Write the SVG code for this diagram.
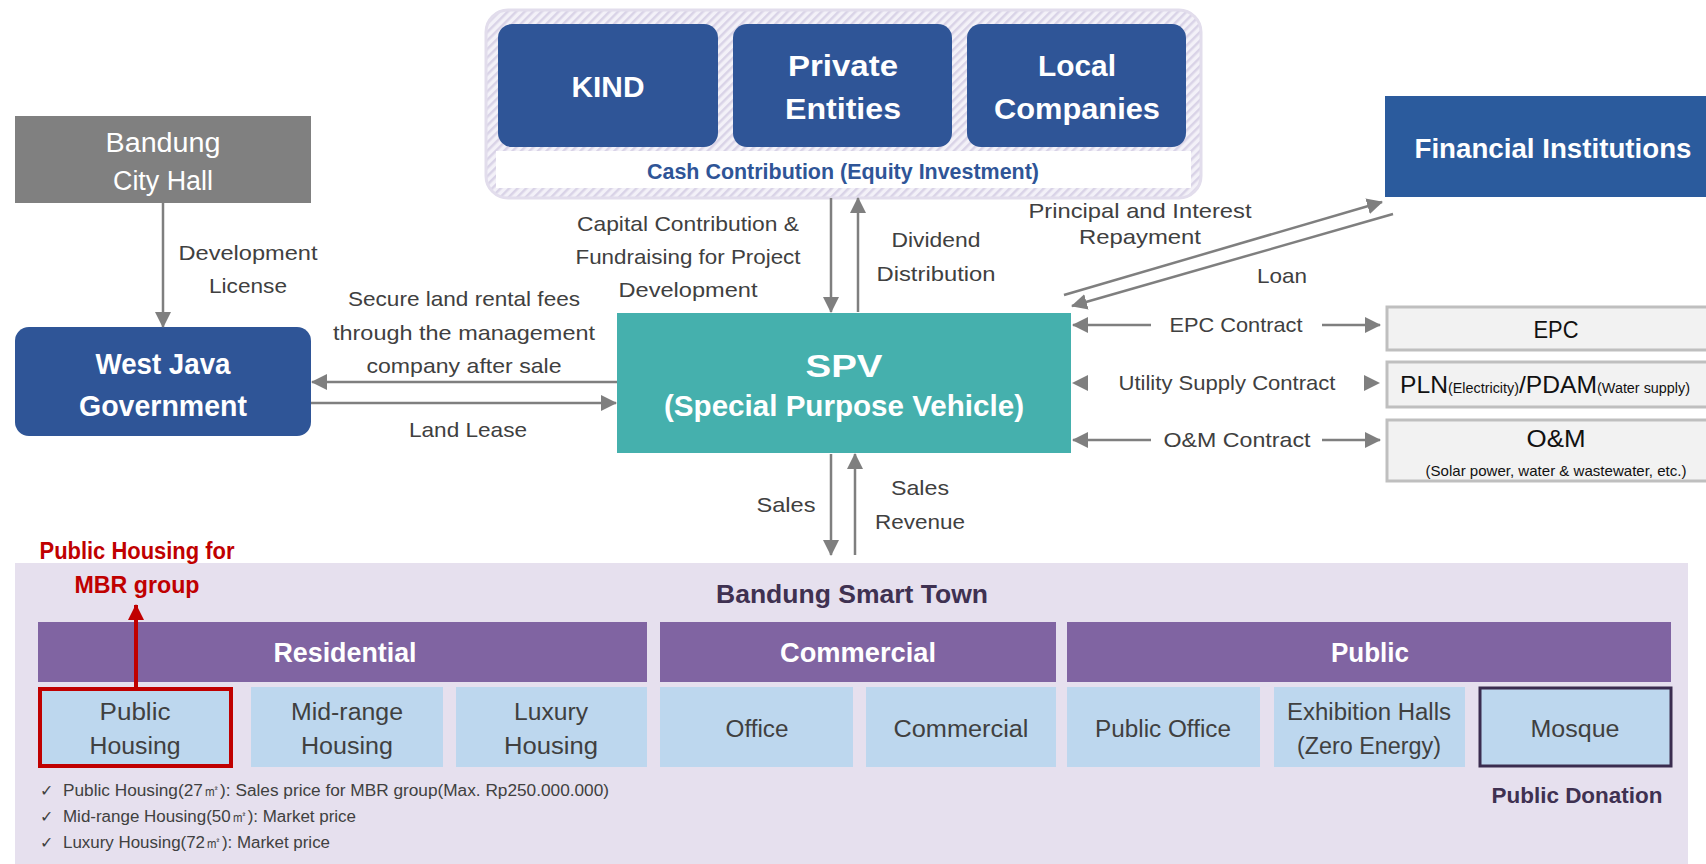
<svg xmlns="http://www.w3.org/2000/svg" width="1706" height="864" viewBox="0 0 1706 864">
<defs>
<style>
text{font-family:"Liberation Sans Narrow","Liberation Sans",Arial,sans-serif;}
.lbl{font-size:21px;fill:#404040;text-anchor:middle;}
.wb{fill:#ffffff;font-weight:bold;text-anchor:middle;}
.wr{fill:#ffffff;text-anchor:middle;}
.sub{font-size:23px;fill:#404040;text-anchor:middle;}
.blk{fill:#111111;text-anchor:middle;}
.blue{fill:#2f5597;}
.cat{fill:#8064a2;}
.cell{fill:#bdd7ee;}
.gbox{fill:#f2f2f2;stroke:#bfbfbf;stroke-width:3;}
.arr{stroke:#7f7f7f;stroke-width:2.5;fill:none;}
.bul{font-size:16px;fill:#404040;}
</style>
<pattern id="hatch" patternUnits="userSpaceOnUse" width="6" height="6" patternTransform="rotate(45)">
<rect width="6" height="6" fill="#f3f1f8"/>
<rect width="2.5" height="6" fill="#d9d3e7"/>
</pattern>
<marker id="ah" viewBox="0 0 16 16" refX="15" refY="8" markerWidth="16" markerHeight="16" markerUnits="userSpaceOnUse" orient="auto">
<path d="M0,0 L16,8 L0,16 Z" fill="#7f7f7f"/>
</marker>
<marker id="ahr" viewBox="0 0 16 16" refX="15" refY="8" markerWidth="16" markerHeight="16" markerUnits="userSpaceOnUse" orient="auto">
<path d="M0,0 L16,8 L0,16 Z" fill="#c00000"/>
</marker>
</defs>
<rect width="1706" height="864" fill="#ffffff"/>

<!-- Investors container -->
<g id="investors">
<rect x="486" y="10" width="715" height="188" rx="22" fill="url(#hatch)" stroke="#e2ddec" stroke-width="3"/>
<rect x="496" y="151" width="695" height="37" fill="#ffffff"/>
<text x="843" y="179" font-size="22" font-weight="bold" fill="#2f5597" text-anchor="middle" textLength="392" lengthAdjust="spacingAndGlyphs">Cash Contribution (Equity Investment)</text>
</g>
<g id="kind">
<rect x="498" y="24" width="220" height="123" rx="14" class="blue"/>
<text x="608" y="97" font-size="30" class="wb" textLength="73" lengthAdjust="spacingAndGlyphs">KIND</text>
</g>
<g id="private">
<rect x="733" y="24" width="219" height="123" rx="14" class="blue"/>
<text x="843" y="76" font-size="30" class="wb" textLength="110" lengthAdjust="spacingAndGlyphs">Private</text>
<text x="843" y="119" font-size="30" class="wb" textLength="116" lengthAdjust="spacingAndGlyphs">Entities</text>
</g>
<g id="local">
<rect x="967" y="24" width="219" height="123" rx="14" class="blue"/>
<text x="1077" y="76" font-size="30" class="wb" textLength="78" lengthAdjust="spacingAndGlyphs">Local</text>
<text x="1077" y="119" font-size="30" class="wb" textLength="166" lengthAdjust="spacingAndGlyphs">Companies</text>
</g>

<g id="cityhall">
<rect x="15" y="116" width="296" height="87" fill="#808080"/>
<text x="163" y="152" font-size="27" class="wr" textLength="115" lengthAdjust="spacingAndGlyphs">Bandung</text>
<text x="163" y="190" font-size="27" class="wr" textLength="100" lengthAdjust="spacingAndGlyphs">City Hall</text>
</g>
<g id="westjava">
<rect x="15" y="327" width="296" height="109" rx="14" class="blue"/>
<text x="163" y="374" font-size="30" class="wb" textLength="135" lengthAdjust="spacingAndGlyphs">West Java</text>
<text x="163" y="416" font-size="30" class="wb" textLength="168" lengthAdjust="spacingAndGlyphs">Government</text>
</g>
<g id="spv">
<rect x="617" y="313" width="454" height="140" fill="#45b0ad"/>
<text x="844" y="377" font-size="32" class="wb" textLength="77" lengthAdjust="spacingAndGlyphs">SPV</text>
<text x="844" y="416" font-size="29" class="wb" textLength="360" lengthAdjust="spacingAndGlyphs">(Special Purpose Vehicle)</text>
</g>
<g id="financial">
<rect x="1385" y="96" width="321" height="101" fill="#2b5b9d"/>
<text x="1553" y="158" font-size="27" class="wb" textLength="277" lengthAdjust="spacingAndGlyphs">Financial Institutions</text>
</g>
<g id="epc">
<rect x="1387" y="307" width="330" height="43" class="gbox"/>
<text x="1556" y="338" font-size="24" class="blk" textLength="45" lengthAdjust="spacingAndGlyphs">EPC</text>
</g>
<g id="pln">
<rect x="1387" y="362" width="330" height="45" class="gbox"/>
<text x="1545" y="393" class="blk" textLength="290" lengthAdjust="spacingAndGlyphs"><tspan font-size="24">PLN</tspan><tspan font-size="14">(Electricity)</tspan><tspan font-size="24">/PDAM</tspan><tspan font-size="14">(Water supply)</tspan></text>
</g>
<g id="om">
<rect x="1387" y="420" width="330" height="61" class="gbox"/>
<text x="1556" y="447" font-size="24" class="blk" textLength="59" lengthAdjust="spacingAndGlyphs">O&amp;M</text>
<text x="1556" y="476" font-size="15" class="blk" textLength="261" lengthAdjust="spacingAndGlyphs">(Solar power, water &amp; wastewater, etc.)</text>
</g>

<!-- Bandung Smart Town -->
<g id="smarttown">
<rect x="15" y="563" width="1673" height="301" fill="#e6e0ee"/>
<text x="852" y="603" font-size="25" font-weight="bold" fill="#3f3151" text-anchor="middle" textLength="272" lengthAdjust="spacingAndGlyphs">Bandung Smart Town</text>
</g>
<g id="residential">
<rect x="38" y="622" width="609" height="60" class="cat"/>
<text x="345" y="662" font-size="27" class="wb" textLength="143" lengthAdjust="spacingAndGlyphs">Residential</text>
</g>
<g id="commercial-cat">
<rect x="660" y="622" width="396" height="60" class="cat"/>
<text x="858" y="662" font-size="27" class="wb" textLength="156" lengthAdjust="spacingAndGlyphs">Commercial</text>
</g>
<g id="public-cat">
<rect x="1067" y="622" width="604" height="60" class="cat"/>
<text x="1370" y="662" font-size="27" class="wb" textLength="78" lengthAdjust="spacingAndGlyphs">Public</text>
</g>
<g id="publichousing">
<rect x="40" y="689" width="191" height="77" class="cell" stroke="#c00000" stroke-width="4"/>
<text x="135" y="720" class="sub" textLength="71" lengthAdjust="spacingAndGlyphs">Public</text>
<text x="135" y="754" class="sub" textLength="91" lengthAdjust="spacingAndGlyphs">Housing</text>
</g>
<g id="midrange">
<rect x="251" y="687" width="192" height="80" class="cell"/>
<text x="347" y="720" class="sub" textLength="112" lengthAdjust="spacingAndGlyphs">Mid-range</text>
<text x="347" y="754" class="sub" textLength="92" lengthAdjust="spacingAndGlyphs">Housing</text>
</g>
<g id="luxury">
<rect x="456" y="687" width="191" height="80" class="cell"/>
<text x="551" y="720" class="sub" textLength="74" lengthAdjust="spacingAndGlyphs">Luxury</text>
<text x="551" y="754" class="sub" textLength="94" lengthAdjust="spacingAndGlyphs">Housing</text>
</g>
<g id="office">
<rect x="660" y="687" width="193" height="80" class="cell"/>
<text x="757" y="737" class="sub" textLength="63" lengthAdjust="spacingAndGlyphs">Office</text>
</g>
<g id="commercial">
<rect x="866" y="687" width="190" height="80" class="cell"/>
<text x="961" y="737" class="sub" textLength="135" lengthAdjust="spacingAndGlyphs">Commercial</text>
</g>
<g id="publicoffice">
<rect x="1067" y="687" width="193" height="80" class="cell"/>
<text x="1163" y="737" class="sub" textLength="136" lengthAdjust="spacingAndGlyphs">Public Office</text>
</g>
<g id="exhibition">
<rect x="1274" y="687" width="191" height="80" class="cell"/>
<text x="1369" y="720" class="sub" textLength="164" lengthAdjust="spacingAndGlyphs">Exhibition Halls</text>
<text x="1369" y="754" class="sub" textLength="144" lengthAdjust="spacingAndGlyphs">(Zero Energy)</text>
</g>
<g id="mosque">
<rect x="1480" y="688" width="191" height="78" class="cell" stroke="#3a2c4f" stroke-width="3"/>
<text x="1575" y="737" class="sub" textLength="89" lengthAdjust="spacingAndGlyphs">Mosque</text>
</g>
<text x="1577" y="803" font-size="22" font-weight="bold" fill="#3f3151" text-anchor="middle" textLength="171" lengthAdjust="spacingAndGlyphs">Public Donation</text>
<text x="137" y="559" font-size="23" font-weight="bold" fill="#c00000" text-anchor="middle" textLength="195" lengthAdjust="spacingAndGlyphs">Public Housing for</text>
<text x="137" y="593" font-size="23" font-weight="bold" fill="#c00000" text-anchor="middle" textLength="125" lengthAdjust="spacingAndGlyphs">MBR group</text>

<g id="notes">
<text x="40" y="796" class="bul">✓</text>
<text x="63" y="796" class="bul" textLength="546" lengthAdjust="spacingAndGlyphs">Public Housing(27㎡): Sales price for MBR group(Max. Rp250.000.000)</text>
<text x="40" y="822" class="bul">✓</text>
<text x="63" y="822" class="bul" textLength="293" lengthAdjust="spacingAndGlyphs">Mid-range Housing(50㎡): Market price</text>
<text x="40" y="848" class="bul">✓</text>
<text x="63" y="848" class="bul" textLength="267" lengthAdjust="spacingAndGlyphs">Luxury Housing(72㎡): Market price</text>
</g>

<!-- Connectors -->
<g id="connectors">
<line x1="163" y1="203" x2="163" y2="327" class="arr" marker-end="url(#ah)"/>
<line x1="617" y1="382" x2="312" y2="382" class="arr" marker-end="url(#ah)"/>
<line x1="311" y1="403" x2="616" y2="403" class="arr" marker-end="url(#ah)"/>
<line x1="831" y1="198" x2="831" y2="312" class="arr" marker-end="url(#ah)"/>
<line x1="858" y1="312" x2="858" y2="198" class="arr" marker-end="url(#ah)"/>
<line x1="1064" y1="295" x2="1382" y2="202" class="arr" marker-end="url(#ah)"/>
<line x1="1393" y1="214" x2="1072" y2="306" class="arr" marker-end="url(#ah)"/>
<line x1="1151" y1="325" x2="1073" y2="325" class="arr" marker-end="url(#ah)"/>
<line x1="1322" y1="325" x2="1380" y2="325" class="arr" marker-end="url(#ah)"/>
<path d="M1088,375 L1072,383 L1088,391 Z" fill="#7f7f7f"/>
<path d="M1364,375 L1380,383 L1364,391 Z" fill="#7f7f7f"/>
<line x1="1151" y1="440" x2="1073" y2="440" class="arr" marker-end="url(#ah)"/>
<line x1="1322" y1="440" x2="1380" y2="440" class="arr" marker-end="url(#ah)"/>
<line x1="831" y1="454" x2="831" y2="555" class="arr" marker-end="url(#ah)"/>
<line x1="855" y1="555" x2="855" y2="454" class="arr" marker-end="url(#ah)"/>
<line x1="136" y1="687" x2="136" y2="605" stroke="#c00000" stroke-width="4" marker-end="url(#ahr)"/>
</g>

<!-- Connector labels -->
<g id="labels">
<text x="248" y="260" class="lbl" textLength="139" lengthAdjust="spacingAndGlyphs">Development</text>
<text x="248" y="293" class="lbl" textLength="78" lengthAdjust="spacingAndGlyphs">License</text>
<text x="464" y="306" class="lbl" textLength="232" lengthAdjust="spacingAndGlyphs">Secure land rental fees</text>
<text x="464" y="340" class="lbl" textLength="262" lengthAdjust="spacingAndGlyphs">through the management</text>
<text x="464" y="373" class="lbl" textLength="195" lengthAdjust="spacingAndGlyphs">company after sale</text>
<text x="468" y="437" class="lbl" textLength="118" lengthAdjust="spacingAndGlyphs">Land Lease</text>
<text x="688" y="231" class="lbl" textLength="222" lengthAdjust="spacingAndGlyphs">Capital Contribution &amp;</text>
<text x="688" y="264" class="lbl" textLength="225" lengthAdjust="spacingAndGlyphs">Fundraising for Project</text>
<text x="688" y="297" class="lbl" textLength="139" lengthAdjust="spacingAndGlyphs">Development</text>
<text x="936" y="247" class="lbl" textLength="89" lengthAdjust="spacingAndGlyphs">Dividend</text>
<text x="936" y="281" class="lbl" textLength="119" lengthAdjust="spacingAndGlyphs">Distribution</text>
<text x="1140" y="218" class="lbl" textLength="223" lengthAdjust="spacingAndGlyphs">Principal and Interest</text>
<text x="1140" y="244" class="lbl" textLength="122" lengthAdjust="spacingAndGlyphs">Repayment</text>
<text x="1282" y="283" class="lbl" textLength="50" lengthAdjust="spacingAndGlyphs">Loan</text>
<text x="1236" y="332" class="lbl" textLength="133" lengthAdjust="spacingAndGlyphs">EPC Contract</text>
<text x="1227" y="390" class="lbl" textLength="217" lengthAdjust="spacingAndGlyphs">Utility Supply Contract</text>
<text x="1237" y="447" class="lbl" textLength="147" lengthAdjust="spacingAndGlyphs">O&amp;M Contract</text>
<text x="786" y="512" class="lbl" textLength="59" lengthAdjust="spacingAndGlyphs">Sales</text>
<text x="920" y="495" class="lbl" textLength="58" lengthAdjust="spacingAndGlyphs">Sales</text>
<text x="920" y="529" class="lbl" textLength="90" lengthAdjust="spacingAndGlyphs">Revenue</text>
</g>
</svg>
